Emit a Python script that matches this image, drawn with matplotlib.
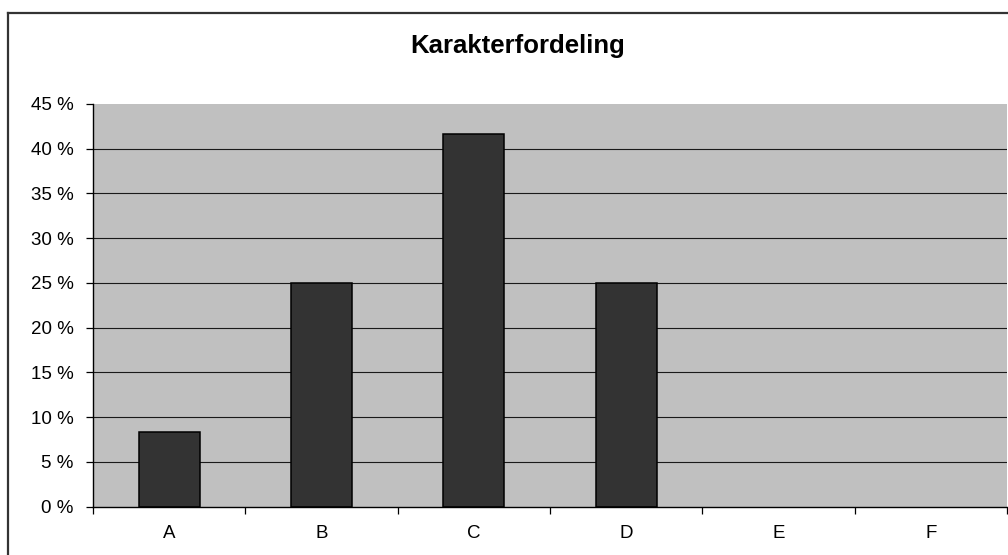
import matplotlib
matplotlib.use("Agg")
import matplotlib.pyplot as plt
from matplotlib.lines import Line2D
from matplotlib.ticker import FuncFormatter

plt.rcParams["font.family"] = ["Liberation Sans", "DejaVu Sans"]

# grade distribution (share of students, %)
grades = ["A", "B", "C", "D", "E", "F"]
shares = [8.33, 25.0, 41.67, 25.0, 0.0, 0.0]
y_ticks = list(range(0, 50, 5))

W, H = 1008, 555
fig = plt.figure(figsize=(W / 100, H / 100), dpi=100)
fig.patch.set_facecolor("white")

# plot area placed in pixel terms
left, right, top, bottom = 93, 1007, 104, 506.7
ax = fig.add_axes([left / W, 1 - bottom / H, (right - left) / W, (bottom - top) / H])
ax.set_facecolor("#C0C0C0")

x = list(range(len(grades)))
# empty categories get no outline
edge_w = [1.1 if v > 0 else 0 for v in shares]
ax.bar(x, shares, width=0.4, color="#333333", edgecolor="black", linewidth=edge_w, zorder=3)

ax.set_xlim(-0.5, len(grades) - 0.5)
ax.set_ylim(0, 45)
ax.set_yticks(y_ticks)
ax.yaxis.set_major_formatter(FuncFormatter(lambda v, p: f"{int(v)} %"))

# horizontal gridlines, but not along the top edge
for v in y_ticks[1:-1]:
    ax.axhline(v, color="#1a1a1a", linewidth=0.8, zorder=1)

# category boundaries get tick marks, centers get labels
ax.set_xticks([i - 0.5 for i in range(len(grades) + 1)])
ax.set_xticklabels([])
ax.set_xticks(x, minor=True)
ax.set_xticklabels(grades, minor=True)
ax.tick_params(axis="x", which="major", length=5, width=0.9, color="black", direction="out")
ax.tick_params(axis="x", which="minor", length=0, pad=13, labelsize=13.5)
ax.tick_params(axis="y", length=5, width=0.9, color="black", direction="out", pad=9, labelsize=13.5)

for s in ["top", "right"]:
    ax.spines[s].set_visible(False)
for s in ["left", "bottom"]:
    ax.spines[s].set_color("black")
    ax.spines[s].set_linewidth(1.0)
    ax.spines[s].set_zorder(4)

fig.text(518 / W, 1 - 46 / H, "Karakterfordeling", ha="center", va="center",
         fontsize=18.5, fontweight="bold")

# chart border (only left and top sides fall inside the image)
fig.add_artist(Line2D([7.5 / W, 7.5 / W], [0, 1 - 13 / H], transform=fig.transFigure,
                      color="#333333", linewidth=1.6))
fig.add_artist(Line2D([7.5 / W, 1], [1 - 13 / H, 1 - 13 / H], transform=fig.transFigure,
                      color="#333333", linewidth=1.6))

fig.savefig("out.png", dpi=100)
